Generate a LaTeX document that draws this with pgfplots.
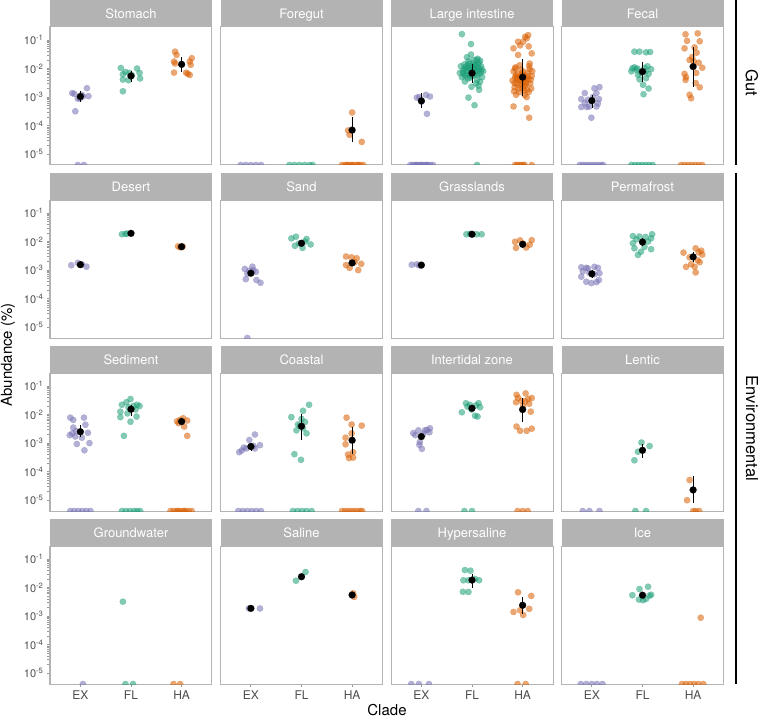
\documentclass[border=0pt]{standalone}
\usepackage{pgfplots}
\pgfplotsset{compat=1.18}
\usepackage{fontspec}
\setmainfont{TeX Gyre Heros}
\definecolor{exc}{HTML}{7570B3}
\definecolor{flc}{HTML}{1B9E77}
\definecolor{hac}{HTML}{D95F02}
\definecolor{grey70}{HTML}{B3B3B3}
\definecolor{grey60}{HTML}{999999}
\definecolor{grey30}{HTML}{4D4D4D}
\pgfplotsset{
 lc/.style={/pgfplots/ytick={1e-5,1e-4,1e-3,1e-2,1e-1},
   /pgfplots/yticklabels={10\textsuperscript{-5},10\textsuperscript{-4},10\textsuperscript{-3},10\textsuperscript{-2},10\textsuperscript{-1}},
   /pgfplots/yticklabel style={font=\fontsize{11}{12}\selectfont}},
 br/.style={/pgfplots/xtick={1,2,3}, /pgfplots/xticklabels={EX,FL,HA}},
 ex/.style={only marks, mark=*, color=exc, mark size=3.2pt, mark options={fill=exc, opacity=0.55, line width=0.1pt}},
 fl/.style={only marks, mark=*, color=flc, mark size=3.2pt, mark options={fill=flc, opacity=0.55, line width=0.1pt}},
 ha/.style={only marks, mark=*, color=hac, mark size=3.2pt, mark options={fill=hac, opacity=0.55, line width=0.1pt}},
 mn/.style={only marks, mark=*, color=black, mark size=3.5pt, mark options={fill=black, line width=0.1pt}},
 ebar/.style={black, line width=0.7pt, no marks},
}
\newcommand{\eb}[3]{\addplot[ebar] coordinates {(#1,#2) (#1,#3)};}
\newcommand{\mn}[2]{\addplot[mn] coordinates {(#1,#2)};}
\newcommand{\panel}[5]{%
\begin{axis}[scale only axis, width=162pt, height=138pt, anchor=south west,
   xmin=0.4, xmax=3.6, ymode=log, ymin=4.2e-6, ymax=0.285,
   axis line style={draw=grey70, line width=1pt},
   xtick=\empty, ytick=\empty, clip marker paths=true,
   tick align=outside, major tick length=3pt,
   tick style={draw=grey60, line width=0.8pt},
   tick label style={text=grey30, font=\fontsize{12}{13}\selectfont},
   xtick pos=bottom, ytick pos=left,#1,at={(#2pt,#3pt)}]
#5
\end{axis}
\fill[grey70] ({#2},{#3+138}) rectangle ({#2+162},{#3+165});
\node[anchor=base, text=white, font=\fontsize{13}{14}\selectfont, inner sep=0pt] at ({#2+81},{#3+146.5}) {#4};
}
\begin{document}
\begin{tikzpicture}[x=1pt,y=1pt]
\useasboundingbox (0,0) rectangle (762,721);
% ---------------- Row 1 ----------------
\panel{lc}{50}{556}{Stomach}{
\addplot[ex] coordinates {(0.84,1.38e-3)(0.95,8.9e-4)(0.99,9e-4)(1.05,1.05e-3)(1.13,2.05e-3)(1.16,1.08e-3)(0.90,3.2e-4)(1.03,1.2e-3)(0.88,1.3e-3)(0.95,4.2e-6)(1.07,4.2e-6)};
\addplot[fl] coordinates {(1.80,1.05e-2)(1.89,7.6e-3)(1.84,6.3e-3)(1.84,4.1e-3)(1.95,3.9e-3)(2.02,5.8e-3)(2.12,1.0e-2)(2.17,7.0e-3)(2.18,4.5e-3)(1.84,1.6e-3)(1.97,7e-3)};
\addplot[ha] coordinates {(2.87,3.9e-2)(2.90,3.0e-2)(2.85,1.75e-2)(2.87,1.5e-2)(2.85,7.2e-3)(3.09,7.2e-3)(3.16,6.0e-3)(3.20,2.3e-2)(3.16,1.75e-2)(3.18,1.35e-2)(3.12,6.5e-3)};
\eb{1}{1.6e-3}{7e-4}\mn{1}{1.05e-3}
\eb{2}{8e-3}{3.5e-3}\mn{2}{5.5e-3}
\eb{3}{2.5e-2}{7.8e-3}\mn{3}{1.4e-2}
}
\panel{}{220.5}{556}{Foregut}{
\addplot[ex] coordinates {(0.8,4.2e-6)(0.9,4.2e-6)(1.0,4.2e-6)(1.1,4.2e-6)(1.2,4.2e-6)};
\addplot[fl] coordinates {(1.76,4.2e-6)(1.86,4.2e-6)(1.96,4.2e-6)(2.06,4.2e-6)(2.16,4.2e-6)(2.22,4.2e-6)};
\addplot[ha] coordinates {(2.8,4.2e-6)(2.86,4.2e-6)(2.92,4.2e-6)(2.98,4.2e-6)(3.04,4.2e-6)(3.1,4.2e-6)(3.16,4.2e-6)(3.22,4.2e-6)(2.9,4.2e-6)(3.0,4.2e-6)(3.12,4.2e-6)(3.0,2.9e-4)(2.92,6.8e-5)(2.95,4.8e-5)(3.19,2.7e-5)};
\eb{3}{2e-4}{2.6e-5}\mn{3}{7e-5}
}
\panel{}{391}{556}{Large intestine}{
\addplot[ex] coordinates {(0.91,9.6e-4)(1.0,6.9e-4)(1.09,1.2e-3)(1.17,1.05e-3)(1.11,2.6e-4)(0.96,1e-3)
(0.78,4.2e-6)(0.83,4.2e-6)(0.88,4.2e-6)(0.93,4.2e-6)(0.98,4.2e-6)(1.03,4.2e-6)(1.08,4.2e-6)(1.13,4.2e-6)(1.18,4.2e-6)(1.23,4.2e-6)(0.9,4.2e-6)(1.0,4.2e-6)(1.1,4.2e-6)};
\addplot[fl] coordinates {(1.80,0.16)(1.98,7.2e-2)(1.98,3.1e-2)(2.14,1.8e-3)(1.93,9.6e-4)(2.05,5.2e-4)(2.13,2.5e-3)(1.99,2.3e-3)(2.09,2e-2)(2.16,1.9e-2)
(1.78,1.2e-2)(1.82,8e-3)(1.85,1.4e-2)(1.88,6e-3)(1.9,1.0e-2)(1.92,4.5e-3)(1.95,1.5e-2)(1.97,8.5e-3)(2.0,5.5e-3)(2.02,1.1e-2)(2.05,7e-3)(2.07,1.3e-2)(2.1,4e-3)(2.12,9e-3)(2.15,6.5e-3)(2.18,1.2e-2)(2.2,5e-3)(2.22,8e-3)(1.8,5e-3)(1.86,3.5e-3)(1.93,1.8e-2)(2.03,2e-2)(2.08,3e-3)(2.14,1.6e-2)(1.76,7e-3)(1.99,1.25e-2)(2.11,2.2e-2)(1.9,2.5e-2)(2.16,3.5e-3)(1.84,9.5e-3)(1.95,6e-3)(2.05,9.5e-3)(1.87,1.1e-2)(2.1,6e-3)
(1.83,6.8e-3)(1.89,8.2e-3)(1.94,1.1e-2)(1.98,7.5e-3)(2.01,9e-3)(2.04,5.8e-3)(2.06,1.2e-2)(2.09,8.5e-3)(2.13,1.05e-2)(2.17,7.5e-3)(1.91,1.3e-2)(1.96,4.8e-3)(2.03,1.5e-2)(2.11,1.4e-2)(1.86,5.5e-3)(2.19,9.5e-3)
(2.1,4.2e-6)};
\addplot[ha] coordinates {(3.11,0.148)(3.08,0.115)(3.01,8.7e-2)(2.91,8.7e-2)(2.82,5.1e-2)(3.18,3.4e-2)(2.91,3e-2)(2.85,1e-2)(3.14,1.5e-2)(2.82,4.7e-4)(3.08,4.1e-4)(3.13,1.9e-4)(3.05,0.13)(2.95,6.5e-2)(3.12,6e-2)
(2.82,8e-3)(2.85,5e-3)(2.88,3e-3)(2.9,6.5e-3)(2.92,2e-3)(2.95,4e-3)(2.97,9e-3)(3.0,3.5e-3)(3.02,6e-3)(3.05,2.5e-3)(3.07,4.5e-3)(3.1,7e-3)(3.12,1.5e-3)(3.15,3e-3)(3.18,5.5e-3)(2.84,2.2e-3)(2.87,1.2e-3)(2.93,1.5e-3)(2.99,2.8e-3)(3.04,1.2e-3)(3.09,1.8e-3)(3.14,9.5e-3)(3.17,2e-3)(2.8,3.8e-3)(2.96,5.2e-3)(3.01,7.8e-3)(3.06,3.2e-3)(3.11,4.2e-3)(2.89,4.6e-3)(3.03,1.7e-3)(2.86,1.1e-2)(3.13,1.2e-2)(2.94,1.3e-2)(3.19,8e-3)(2.83,1.6e-3)(3.08,1e-3)
(2.87,5.8e-3)(2.91,4e-3)(2.95,2.6e-3)(2.98,6.2e-3)(3.03,4.4e-3)(3.07,2.9e-3)(3.1,5.5e-3)(3.16,4.1e-3)(2.84,3.1e-3)(3.0,2.1e-3)
(2.85,4.2e-6)(2.89,4.2e-6)(2.93,4.2e-6)(2.97,4.2e-6)(3.01,4.2e-6)(3.04,4.2e-6)(3.18,4.2e-6)};
\eb{1}{1.4e-3}{4.1e-4}\mn{1}{7.4e-4}
\eb{2}{1.5e-2}{3.1e-3}\mn{2}{6.9e-3}
\eb{3}{2.1e-2}{1.1e-3}\mn{3}{5e-3}
}
\panel{}{561.5}{556}{Fecal}{
\addplot[ex] coordinates {(0.86,1.38e-3)(1.05,2.04e-3)(1.15,2.24e-3)(1.09,1.38e-3)(1.14,8.5e-4)(0.79,8.5e-4)(0.95,4.7e-4)(0.79,4.5e-4)(0.90,4.5e-4)(0.99,1.9e-4)(1.09,4.7e-4)(0.86,6.2e-4)(1.02,1.0e-3)(0.92,8e-4)(1.12,6e-4)
(0.76,4.2e-6)(0.82,4.2e-6)(0.88,4.2e-6)(0.94,4.2e-6)(1.0,4.2e-6)(1.06,4.2e-6)(1.12,4.2e-6)(1.18,4.2e-6)(1.22,4.2e-6)};
\addplot[fl] coordinates {(1.84,3.9e-2)(1.94,3.9e-2)(2.07,3.7e-2)(2.15,3.8e-2)(1.80,1.02e-2)(1.88,9e-3)(1.78,8e-3)(2.17,9.5e-3)(2.12,6.5e-3)(2.07,4.6e-3)(1.94,4.2e-3)(2.01,2.7e-3)(2.12,2.0e-3)(2.02,1.26e-3)(1.91,6e-3)(1.84,1.1e-2)(2.04,1.05e-2)(1.97,7e-3)(2.1,1.2e-2)(1.9,1.0e-2)(2.06,8e-3)
(1.78,4.2e-6)(1.85,4.2e-6)(1.92,4.2e-6)(1.99,4.2e-6)(2.06,4.2e-6)(2.13,4.2e-6)(2.2,4.2e-6)};
\addplot[ha] coordinates {(2.85,0.158)(3.09,0.17)(2.88,9.3e-2)(3.13,9e-2)(2.83,5.1e-2)(3.03,5.5e-2)(3.07,3.6e-2)(2.93,2.0e-2)(3.01,1.8e-2)(3.18,1.07e-2)(2.83,6.5e-3)(3.06,7e-3)(2.85,4e-3)(3.05,3.1e-3)(3.13,2.2e-3)(2.93,1.2e-3)(2.96,9.1e-4)(2.86,5e-3)(3.11,1.6e-2)(2.98,2.5e-2)
(2.76,4.2e-6)(2.83,4.2e-6)(2.9,4.2e-6)(2.97,4.2e-6)(3.04,4.2e-6)(3.11,4.2e-6)(3.18,4.2e-6)};
\eb{1}{1.2e-3}{4.1e-4}\mn{1}{7.5e-4}
\eb{2}{1.74e-2}{3.5e-3}\mn{2}{7.8e-3}
\eb{3}{5.9e-2}{2.3e-3}\mn{3}{1.17e-2}
}
% ---------------- Row 2 ----------------
\panel{lc}{50}{383}{Desert}{
\addplot[ex] coordinates {(0.82,1.48e-3)(0.95,1.8e-3)(1.12,1.32e-3)(1.03,1.6e-3)};
\addplot[fl] coordinates {(1.82,1.8e-2)(1.89,1.85e-2)(1.92,1.9e-2)};
\addplot[ha] coordinates {(2.93,6.8e-3)(2.97,6.3e-3)(3.02,6.7e-3)};
\mn{1}{1.55e-3}\mn{2}{1.94e-2}\mn{3}{6.6e-3}
}
\panel{}{220.5}{383}{Sand}{
\addplot[ex] coordinates {(0.88,1.1e-3)(1.03,1.32e-3)(1.10,8.7e-4)(0.97,9.5e-4)(0.90,4.8e-4)(1.11,4.5e-4)(1.19,3.6e-4)(0.93,7.5e-4)(1.05,1.0e-3)(0.93,4.2e-6)};
\addplot[fl] coordinates {(1.80,1.29e-2)(1.89,1.48e-2)(2.10,1.23e-2)(2.18,7.9e-3)(2.02,6e-3)(1.87,7.1e-3)(1.95,8.5e-3)(2.07,1.0e-2)};
\addplot[ha] coordinates {(2.88,3.0e-3)(2.99,2.8e-3)(3.09,2.6e-3)(2.88,1.5e-3)(3.18,1.66e-3)(3.12,1.0e-3)(2.95,1.2e-3)(3.05,1.9e-3)};
\eb{1}{1.05e-3}{6e-4}\mn{1}{7.8e-4}
\eb{2}{1e-2}{7.5e-3}\mn{2}{8.7e-3}
\eb{3}{2.1e-3}{1.5e-3}\mn{3}{1.78e-3}
}
\panel{}{391}{383}{Grasslands}{
\addplot[ex] coordinates {(0.81,1.55e-3)(0.91,1.6e-3)(0.96,1.45e-3)};
\addplot[fl] coordinates {(1.89,1.8e-2)(1.96,1.85e-2)(2.09,1.8e-2)(2.19,1.8e-2)};
\addplot[ha] coordinates {(2.85,9.8e-3)(2.95,1.1e-2)(2.87,6e-3)(3.07,6.2e-3)(3.18,1.12e-2)(3.14,7.8e-3)(3.01,8.5e-3)};
\mn{1}{1.5e-3}\mn{2}{1.8e-2}\mn{3}{8e-3}
}
\panel{}{561.5}{383}{Permafrost}{
\addplot[ex] coordinates {(0.79,1.26e-3)(0.89,1.2e-3)(1.05,1.3e-3)(1.12,1.2e-3)(1.15,7.8e-4)(0.79,5.9e-4)(0.89,3.9e-4)(0.99,3.5e-4)(1.09,3.8e-4)(1.14,4.5e-4)(0.82,9e-4)(0.95,8e-4)(1.05,7.2e-4)(0.92,1.15e-3)};
\addplot[fl] coordinates {(1.81,1.55e-2)(1.94,1.5e-2)(2.06,1.45e-2)(2.19,1.8e-2)(2.17,1.3e-2)(1.81,8.7e-3)(1.84,5.8e-3)(2.17,5.4e-3)(1.97,4.4e-3)(1.91,3.4e-3)(2.11,1e-2)(2.04,6.5e-3)(1.88,1.2e-2)};
\addplot[ha] coordinates {(2.81,4.1e-3)(3.05,5.8e-3)(3.16,4.8e-3)(3.18,3.5e-3)(3.09,2.2e-3)(2.86,1.3e-3)(3.03,1.3e-3)(3.05,8.3e-4)(2.96,1.6e-3)(3.13,1.9e-3)(2.93,2.8e-3)(3.11,4.2e-3)};
\eb{1}{1e-3}{5.5e-4}\mn{1}{7.4e-4}
\eb{2}{1.3e-2}{7e-3}\mn{2}{9.6e-3}
\eb{3}{4.2e-3}{2e-3}\mn{3}{2.9e-3}
}
% ---------------- Row 3 ----------------
\panel{lc}{50}{210}{Sediment}{
\addplot[ex] coordinates {(0.80,7.8e-3)(0.86,6.5e-3)(1.07,7.8e-3)(1.10,4.4e-3)(0.86,3.5e-3)(0.84,2.2e-3)(0.92,2.6e-3)(1.15,2.3e-3)(0.90,1.7e-3)(1.03,1.55e-3)(0.93,9.3e-4)(1.18,1.0e-3)(1.08,5.6e-4)(0.79,1.9e-3)
(0.8,4.2e-6)(0.88,4.2e-6)(0.96,4.2e-6)(1.04,4.2e-6)(1.12,4.2e-6)(1.2,4.2e-6)};
\addplot[fl] coordinates {(1.99,3.5e-2)(1.91,2.7e-2)(1.82,2.2e-2)(2.12,2.2e-2)(2.17,2e-2)(1.79,1.26e-2)(2.09,1.5e-2)(1.93,1.1e-2)(1.79,8.1e-3)(2.11,8.5e-3)(1.99,5.6e-3)(1.86,1.8e-3)(2.05,2e-2)(1.95,1.8e-2)
(1.82,4.2e-6)(1.9,4.2e-6)(1.98,4.2e-6)(2.06,4.2e-6)(2.12,4.2e-6)(2.18,4.2e-6)};
\addplot[ha] coordinates {(2.91,5.8e-3)(3.03,7.4e-3)(3.11,6.2e-3)(3.05,3.8e-3)(3.11,1.8e-3)(2.97,6.5e-3)(2.94,5e-3)
(2.78,4.2e-6)(2.84,4.2e-6)(2.9,4.2e-6)(2.96,4.2e-6)(3.02,4.2e-6)(3.08,4.2e-6)(3.14,4.2e-6)(3.2,4.2e-6)(2.93,4.2e-6)(3.05,4.2e-6)};
\eb{1}{4.2e-3}{1.6e-3}\mn{1}{2.5e-3}
\eb{2}{2.2e-2}{9e-3}\mn{2}{1.54e-2}
\eb{3}{7.5e-3}{4.3e-3}\mn{3}{5.7e-3}
}
\panel{}{220.5}{210}{Coastal}{
\addplot[ex] coordinates {(0.77,4.8e-4)(0.82,5.5e-4)(0.91,6.5e-4)(0.97,1.29e-3)(1.08,2.0e-3)(1.05,8e-4)(1.18,8.5e-4)(1.08,6.5e-4)(0.86,7e-4)
(0.75,4.2e-6)(0.84,4.2e-6)(0.93,4.2e-6)(1.02,4.2e-6)(1.11,4.2e-6)(1.2,4.2e-6)};
\addplot[fl] coordinates {(1.80,8.1e-3)(2.03,1.35e-2)(2.15,2.2e-2)(2.0,7e-3)(1.93,4.5e-3)(2.03,3.3e-3)(1.90,2.8e-3)(2.10,2.2e-3)(1.97,4e-3)(1.86,4.1e-4)(1.99,2.6e-4)(2.07,5.5e-3)
(1.83,4.2e-6)(1.92,4.2e-6)(2.01,4.2e-6)(2.1,4.2e-6)(2.2,4.2e-6)};
\addplot[ha] coordinates {(2.89,7.8e-3)(3.19,4.1e-3)(2.99,4.5e-3)(2.99,2.2e-3)(2.87,1.55e-3)(2.87,9.1e-4)(3.02,4.8e-4)(2.92,4e-4)(3.02,3.1e-4)(2.94,3e-4)
(2.8,4.2e-6)(2.86,4.2e-6)(2.92,4.2e-6)(2.98,4.2e-6)(3.04,4.2e-6)(3.1,4.2e-6)(3.16,4.2e-6)(3.2,4.2e-6)};
\eb{1}{1e-3}{5.5e-4}\mn{1}{7.6e-4}
\eb{2}{1.02e-2}{1.29e-3}\mn{2}{3.9e-3}
\eb{3}{3.8e-3}{4.1e-4}\mn{3}{1.26e-3}
}
\panel{}{391}{210}{Intertidal zone}{
\addplot[ex] coordinates {(0.84,2.24e-3)(0.94,2.8e-3)(1.07,2.8e-3)(1.17,3.3e-3)(1.16,2.4e-3)(0.88,1.9e-3)(1.04,2.1e-3)(0.96,8.7e-4)(1.01,6.3e-4)(0.97,1.1e-3)(1.11,2.9e-3)
(0.94,4.2e-6)(1.1,4.2e-6)};
\addplot[fl] coordinates {(1.88,2.5e-2)(2.13,2.5e-2)(2.16,1.8e-2)(1.91,1.9e-2)(1.80,1.2e-2)(2.06,9.1e-3)(2.11,8.5e-3)(1.99,1.5e-2)(1.96,2.2e-2)(2.08,2.1e-2)
(1.85,4.2e-6)(2.0,4.2e-6)};
\addplot[ha] coordinates {(2.88,4.9e-2)(3.06,5.5e-2)(2.91,3.8e-2)(3.11,3.5e-2)(3.18,3.8e-2)(2.87,2.7e-2)(3.05,2.9e-2)(3.13,2.4e-2)(3.16,1.26e-2)(2.88,3.8e-3)(2.95,2.7e-3)(3.08,2.7e-3)(3.18,3.2e-3)(3.01,2e-2)(2.98,3e-2)
(2.9,4.2e-6)(3.0,4.2e-6)(3.1,4.2e-6)};
\eb{1}{2.1e-3}{1.3e-3}\mn{1}{1.7e-3}
\eb{2}{2e-2}{1.3e-2}\mn{2}{1.66e-2}
\eb{3}{3.7e-2}{5.6e-3}\mn{3}{1.5e-2}
}
\panel{}{561.5}{210}{Lentic}{
\addplot[ex] coordinates {(0.82,4.2e-6)(0.95,4.2e-6)(1.15,4.2e-6)};
\addplot[fl] coordinates {(1.98,1.05e-3)(2.14,7.9e-4)(1.91,5e-4)(1.84,2.5e-4)(1.86,4.2e-6)(2.07,4.2e-6)};
\addplot[ha] coordinates {(2.93,5.1e-5)(2.88,1e-5)(3.0,4.2e-6)(3.05,4.2e-6)(3.12,4.2e-6)};
\eb{2}{9.1e-4}{3.1e-4}\mn{2}{5.6e-4}
\eb{3}{7.1e-5}{7.9e-6}\mn{3}{2.3e-5}
}
% ---------------- Row 4 ----------------
\panel{lc,br}{50}{37}{Groundwater}{
\addplot[ex] coordinates {(1.05,4.2e-6)};
\addplot[fl] coordinates {(1.84,3.2e-3)(1.89,4.2e-6)(2.04,4.2e-6)};
\addplot[ha] coordinates {(2.84,4.2e-6)(2.97,4.2e-6)};
}
\panel{br}{220.5}{37}{Saline}{
\addplot[ex] coordinates {(0.96,1.87e-3)(1.18,1.85e-3)};
\addplot[fl] coordinates {(1.89,1.74e-2)(2.08,3.5e-2)};
\addplot[ha] coordinates {(3.02,6.3e-3)(3.04,4.7e-3)};
\mn{1}{1.87e-3}
\eb{2}{3e-2}{1.9e-2}\mn{2}{2.4e-2}
\mn{3}{5.5e-3}
}
\panel{br}{391}{37}{Hypersaline}{
\addplot[ex] coordinates {(0.8,4.2e-6)(0.95,4.2e-6)(1.15,4.2e-6)};
\addplot[fl] coordinates {(1.86,4.1e-2)(1.97,3.9e-2)(1.83,1.8e-2)(1.93,1.8e-2)(2.06,2e-2)(2.14,1.8e-2)(1.82,7.1e-3)(1.93,7e-3)};
\addplot[ha] coordinates {(2.91,6.8e-3)(3.17,5.1e-3)(2.82,1.4e-3)(3.13,1.8e-3)(3.01,1.1e-3)(2.95,1.6e-3)(2.9,4.2e-6)(3.06,4.2e-6)};
\eb{2}{3e-2}{1e-2}\mn{2}{1.83e-2}
\eb{3}{4.8e-3}{1.17e-3}\mn{3}{2.4e-3}
}
\panel{br}{561.5}{37}{Ice}{
\addplot[ex] coordinates {(0.78,4.2e-6)(0.89,4.2e-6)(1.0,4.2e-6)(1.1,4.2e-6)(1.21,4.2e-6)};
\addplot[fl] coordinates {(1.80,5.4e-3)(1.94,8.9e-3)(2.11,1.07e-2)(2.17,5.6e-3)(2.01,3.6e-3)(1.93,3.8e-3)(2.07,4e-3)(2.14,5.2e-3)};
\addplot[ha] coordinates {(3.15,8.8e-4)(2.78,4.2e-6)(2.86,4.2e-6)(2.94,4.2e-6)(3.02,4.2e-6)(3.1,4.2e-6)(3.2,4.2e-6)};
\eb{2}{6.5e-3}{4.5e-3}\mn{2}{5.4e-3}
}
% ---------------- labels ----------------
\draw[line width=2.7pt] (736,721) -- (736,556);
\draw[line width=2.7pt] (736,548) -- (736,37);
\node[rotate=-90, font=\fontsize{16.5}{18}\selectfont] at (752,638.5) {Gut};
\node[rotate=-90, font=\fontsize{16.5}{18}\selectfont] at (752,292.5) {Environmental};
\node[rotate=90, font=\fontsize{15}{16}\selectfont] at (8,366) {Abundance (\%)};
\node[font=\fontsize{15}{16}\selectfont] at (387,11) {Clade};
\end{tikzpicture}
\end{document}
